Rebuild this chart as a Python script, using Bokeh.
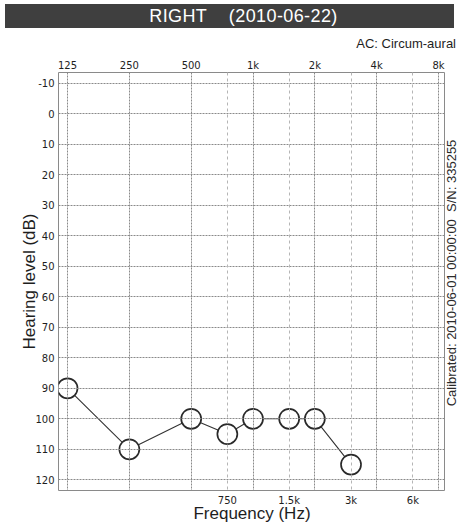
import numpy as np
from bokeh.plotting import figure
from bokeh.models import Range1d, FixedTicker, LinearAxis, Grid, Div
from bokeh.layouts import column, row
from bokeh.embed import file_html
from bokeh.resources import INLINE

# ---- data ----
freqs_hz = [125, 250, 500, 750, 1000, 1500, 2000, 3000]
thresholds_db = [90, 110, 100, 105, 100, 100, 100, 115]
top_tick_freqs = [125, 250, 500, 1000, 2000, 4000, 8000]
top_tick_labels = ["125", "250", "500", "1k", "2k", "4k", "8k"]
bottom_tick_freqs = [750, 1500, 3000, 6000]
bottom_tick_labels = ["750", "1.5k", "3k", "6k"]
db_ticks = list(range(-10, 121, 10))
db_tick_labels = [str(v) for v in db_ticks]


def octave(f):
    return [float(v) for v in np.log2(np.asarray(f, dtype=float) / 125.0)]


x_pts = octave(freqs_hz)
top_pos = octave(top_tick_freqs)
bot_pos = octave(bottom_tick_freqs)

TICK_FONT = "DejaVu Sans"
SANS = "Liberation Sans"
TXT = "#1e1e1e"

header = Div(
    text="RIGHT&nbsp;&nbsp;&nbsp;&nbsp;(2010-06-22)",
    width=449, height=24, margin=(4, 5, 2, 5),
    styles={"background-color": "#3f3f3f", "color": "white",
            "font-family": "Liberation Sans, Arial, sans-serif",
            "font-size": "18px", "text-align": "center", "line-height": "24px",
            "width": "449px", "height": "24px", "box-sizing": "border-box",
            "padding-left": "28px", "letter-spacing": "0.4px"},
)

ac_note = Div(
    text="AC: Circum-aural",
    width=459, height=24, margin=(0, 0, 0, 0),
    styles={"color": TXT, "font-family": "Liberation Sans, Arial, sans-serif",
            "font-size": "13px", "text-align": "right", "line-height": "28px",
            "width": "459px", "height": "24px", "box-sizing": "border-box",
            "padding-right": "3px"},
)

FIG_H = 471
p = figure(width=445, height=FIG_H, output_backend="svg", toolbar_location=None,
           x_range=Range1d(-0.146, 6.113), y_range=Range1d(123.5, -13.5),
           x_axis_location="above",
           min_border_left=58, min_border_right=0, min_border_top=18, min_border_bottom=35)

# top axis (octave frequencies)
ax_top = p.xaxis[0]
ax_top.ticker = FixedTicker(ticks=top_pos)
ax_top.major_label_overrides = {k: v for k, v in zip(top_pos, top_tick_labels)}

# bottom axis (half-octave frequencies)
ax_bot = LinearAxis(ticker=FixedTicker(ticks=bot_pos),
                    major_label_overrides={k: v for k, v in zip(bot_pos, bottom_tick_labels)},
                    axis_label="Frequency (Hz)")
p.add_layout(ax_bot, "below")

ay = p.yaxis[0]
ay.ticker = FixedTicker(ticks=db_ticks)
ay.major_label_overrides = {k: v for k, v in zip(db_ticks, db_tick_labels)}
ay.axis_label = "Hearing level (dB)"

for ax in (ax_top, ax_bot, ay):
    ax.axis_line_color = None
    ax.major_tick_line_color = None
    ax.minor_tick_line_color = None
    ax.major_tick_out = 0
    ax.major_tick_in = 0
    ax.minor_tick_out = 0
    ax.minor_tick_in = 0
    ax.major_label_standoff = 2
    ax.major_label_text_font = TICK_FONT
    ax.major_label_text_font_size = "10px"
    ax.major_label_text_color = TXT

ay.major_label_standoff = 4
ax_bot.major_label_standoff = 4

for ax in (ax_bot, ay):
    ax.axis_label_text_font = SANS
    ax.axis_label_text_font_size = "17px"
    ax.axis_label_text_font_style = "normal"
    ax.axis_label_text_color = TXT
ax_bot.axis_label_standoff = -5
ay.axis_label_standoff = -7

# grids
p.xgrid[0].ticker = FixedTicker(ticks=top_pos)
p.ygrid[0].ticker = FixedTicker(ticks=db_ticks)
for g in (p.xgrid[0], p.ygrid[0]):
    g.grid_line_color = "#8a8a8a"
    g.grid_line_dash = "2 1"
    g.grid_line_width = 1
    g.level = "overlay"

half_grid = Grid(dimension=0, ticker=FixedTicker(ticks=bot_pos),
                 grid_line_color="#b5b5b5", grid_line_dash="3 3", grid_line_width=1,
                 level="overlay")
p.add_layout(half_grid)

p.outline_line_color = "#8a8a8a"
p.outline_line_width = 1
p.background_fill_color = "white"
p.border_fill_color = "white"

# data
p.line(x_pts, thresholds_db, line_color="#333333", line_width=1.1)
p.scatter(x_pts, thresholds_db, marker="circle", size=20, fill_color="white",
          line_color="#2a2a2a", line_width=1.7)

cal_note = Div(
    text=('<div style="position:relative;width:14px;height:%dpx;">'
          '<span style="position:absolute;left:7px;top:219px;'
          'transform:translate(-50%%,-50%%) rotate(-90deg);white-space:nowrap;'
          'font-family:\'Liberation Sans\',Arial,sans-serif;font-size:13px;color:#2a2a2a;">'
          'Calibrated: 2010-06-01 00:00:00&nbsp; S/N: 335255</span></div>') % FIG_H,
    width=14, height=FIG_H, margin=(0, 0, 0, 0),
    styles={"overflow": "visible"},
)

layout = column(header, ac_note, row(p, cal_note, spacing=0), spacing=0)
open("out.html", "w").write(file_html(layout, INLINE))
